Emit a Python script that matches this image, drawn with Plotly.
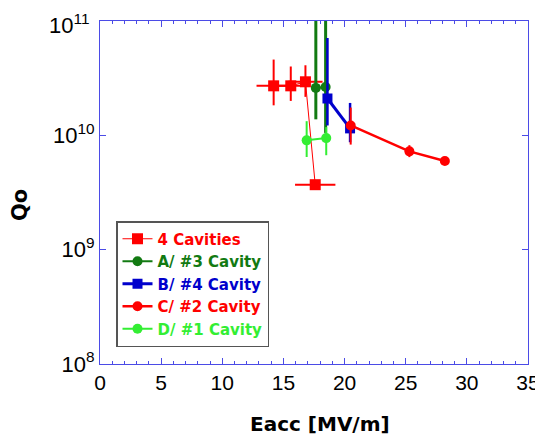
import plotly.graph_objects as go

# ---- data ----
cav4_x = [14.2, 15.6, 16.8, 17.6]
cav4_y = [2.71e10, 2.71e10, 2.94e10, 3.7e9]
cav4_yhi = [4.6e10, 4.0e10, 4.1e10, 3.7e9]
cav4_ylo = [1.83e10, 2.0e10, 2.17e10, 3.7e9]
cav4_xerr = [1.4, 1.4, 1.4, 1.65]

a_x = [17.65, 18.45]
a_y = [2.6e10, 2.65e10]
a_yhi = [2e11, 2e11]
a_ylo = [1.38e10, 1.05e10]

b_x = [18.6, 20.45]
b_y = [2.1e10, 1.15e10]
b_yhi = [7.1e10, 1.92e10]
b_ylo = [1.22e10, 8.7e9]

c_x = [20.5, 25.3, 28.2]
c_y = [1.22e10, 7.24e9, 5.96e9]
c_yhi = [1.75e10, 8.2e9, 5.96e9]
c_ylo = [8.3e9, 6.45e9, 5.96e9]

d_x = [16.9, 18.5]
d_y = [9.04e9, 9.46e9]
d_yhi = [1.33e10, 1.18e10]
d_ylo = [6.46e9, 6.7e9]

x_ticks = [0, 5, 10, 15, 20, 25, 30, 35]
y_ticks = [1e8, 1e9, 1e10, 1e11]
y_tick_labels = ["10<sup>8</sup>", "10<sup>9</sup>", "10<sup>10</sup>", "10<sup>11</sup>"]

AX = "#4B4BE6"
FONT = "Liberation Sans, Arial, sans-serif"
BFONT = "DejaVu Sans, Liberation Sans, sans-serif"

# page body has an 8px margin: figure is drawn from (8, 8)
O = 8
W, H = 543 - O, 435 - O
# plot area in screen pixels (reference)
X0, X1, Y0, Y1 = 100, 528, 21, 364
pl, pr, pt, pb = X0 - O, 543 - X1, Y0 - O, 435 - Y1
pw, ph = X1 - X0, Y1 - Y0


def px(xs):
    return (xs - X0) / pw


def py(ys):
    return (Y1 - ys) / ph


def err(y, hi, lo):
    return [h - v for v, h in zip(y, hi)], [v - l for v, l in zip(y, lo)]


def trace(name, color, x, y, hi, lo, symbol, msize, lw, elw, xerr=None):
    up, dn = err(y, hi, lo)
    t = go.Scatter(
        x=x, y=y, mode="lines+markers",
        name=f"<span style='color:{color}'><b>{name}</b></span>",
        line=dict(color=color, width=lw),
        marker=dict(color=color, symbol=symbol, size=msize, line=dict(width=0)),
        error_y=dict(type="data", symmetric=False, array=up, arrayminus=dn,
                     color=color, thickness=elw, width=0),
    )
    if xerr is not None:
        t.error_x = dict(type="data", array=xerr, color=color, thickness=elw, width=0)
    return t


fig = go.Figure()
fig.add_trace(trace("4 Cavities", "#FF0000", cav4_x, cav4_y, cav4_yhi, cav4_ylo,
                    "square", 11, 1, 2, cav4_xerr))
fig.add_trace(trace("A/ #3 Cavity", "#127A12", a_x, a_y, a_yhi, a_ylo,
                    "circle", 10, 2, 3))
fig.add_trace(trace("B/ #4 Cavity", "#0000CC", b_x, b_y, b_yhi, b_ylo,
                    "square", 10, 3, 2.5))
fig.add_trace(trace("C/ #2 Cavity", "#FF0000", c_x, c_y, c_yhi, c_ylo,
                    "circle", 10, 2.5, 2))
fig.add_trace(trace("D/ #1 Cavity", "#33EE33", d_x, d_y, d_yhi, d_ylo,
                    "circle", 10, 2, 2))

fig.update_layout(
    width=W, height=H,
    margin=dict(l=pl, r=pr, t=pt, b=pb, autoexpand=False),
    paper_bgcolor="white", plot_bgcolor="white",
    font=dict(family=FONT, color="black", size=21),
    showlegend=True,
    legend=dict(x=px(116), y=py(221), xanchor="left", yanchor="top",
                bgcolor="white", bordercolor="#555555", borderwidth=1.5,
                font=dict(size=15, family=BFONT), tracegroupgap=0,
                itemwidth=30),
    xaxis=dict(
        range=[0, 35], tickvals=x_ticks, ticks="inside", ticklen=6,
        tickcolor=AX, showline=True, linecolor=AX, linewidth=1, mirror="ticks",
        showgrid=False, zeroline=False, automargin=False,
        ticklabeloverflow="allow",
        minor=dict(dtick=1, ticks="inside", ticklen=3, tickcolor=AX, showgrid=False),
        tickfont=dict(size=21),
    ),
    yaxis=dict(
        type="log", range=[8, 11], tickvals=y_ticks,
        # the top label is drawn below as an annotation so it is not clipped
        ticktext=y_tick_labels[:-1] + [""],
        ticks="inside", ticklen=6, tickcolor=AX,
        showline=True, linecolor=AX, linewidth=1, mirror="ticks",
        showgrid=False, zeroline=False, automargin=False,
        ticklabeloverflow="allow",
        tickfont=dict(size=22),
    ),
    annotations=[
        dict(text="<b>Eacc [MV/m]</b>", x=px(320), y=py(424), xref="paper",
             yref="paper", xanchor="center", yanchor="middle", showarrow=False,
             font=dict(size=20, family=BFONT)),
        dict(text="<b>Qo</b>", x=px(20), y=py(205), xref="paper", yref="paper",
             xanchor="center", yanchor="middle", showarrow=False, textangle=-90,
             font=dict(size=21, family=BFONT)),
        dict(text=y_tick_labels[-1], x=px(90), y=py(8.5), xref="paper",
             yref="paper", xanchor="right", yanchor="top", showarrow=False,
             font=dict(size=22, family=FONT), borderpad=0),
    ],
)

fig.write_html("out.html")
